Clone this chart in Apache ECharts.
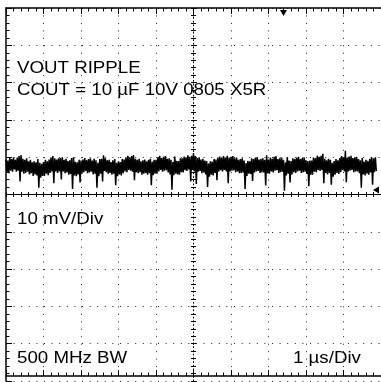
<!DOCTYPE html>
<html>
<head>
<meta charset="utf-8">
<script src="https://cdn.jsdelivr.net/npm/echarts@6/dist/echarts.min.js"></script>
<style>
  html, body { margin: 0; padding: 0; background: #fff; }
  #scope { width: 381px; height: 382px; }
</style>
</head>
<body>
<div id="scope"></div>
<script>
// Time base: 1 µs/div, 10 divisions centred on the trigger point.
const timeStartUs = -5;
const timeStepUs = 0.05;

// Ripple trace envelope, in mV (10 mV/div), one column every 0.05 µs.
const traceHigh = [
  9.3, 9.1, 9.9, 9.5, 9.9, 9.3, 9.9, 10.3, 10.6, 9.6,
  9.3, 9.7, 8.9, 9.3, 8.6, 8.9, 8.6, 9.5, 8.5, 8.2,
  8.7, 9.3, 8.9, 9.4, 9.9, 10.3, 9.7, 9.4, 9.7, 9.8,
  10.0, 9.3, 9.6, 9.0, 9.2, 9.8, 10.0, 8.8, 8.6, 9.3,
  9.1, 9.4, 9.8, 9.2, 9.5, 9.7, 9.1, 9.6, 9.2, 8.5,
  9.5, 9.6, 10.5, 9.7, 9.2, 9.3, 8.7, 9.2, 9.5, 8.5,
  8.9, 8.7, 9.5, 9.4, 10.0, 10.4, 10.0, 10.3, 10.6, 9.6,
  9.3, 9.6, 8.9, 9.2, 9.4, 8.9, 9.3, 9.6, 8.8, 9.3,
  9.3, 10.0, 10.4, 9.8, 10.1, 10.3, 9.6, 9.7, 9.3, 8.7,
  10.2, 9.0, 9.0, 9.7, 9.7, 10.2, 10.0, 10.5, 10.1, 10.4,
  11.1, 10.3, 9.8, 10.0, 9.4, 9.6, 9.1, 9.0, 8.3, 8.9,
  8.8, 9.5, 9.4, 9.9, 10.2, 9.9, 10.3, 9.9, 10.4, 9.9,
  10.1, 10.3, 9.7, 9.9, 9.3, 9.5, 9.7, 9.1, 8.4, 9.0,
  8.9, 9.7, 9.5, 9.9, 10.0, 9.4, 9.6, 9.7, 9.3, 10.5,
  9.4, 9.9, 9.6, 10.1, 10.3, 9.5, 9.7, 9.9, 9.3, 8.6,
  10.0, 9.1, 9.0, 9.7, 9.5, 9.9, 10.1, 9.5, 9.8, 9.9,
  9.2, 9.0, 9.1, 9.1, 9.9, 9.8, 10.4, 10.1, 10.4, 10.9,
  9.6, 9.2, 9.6, 9.3, 8.5, 9.0, 9.5, 9.2, 9.8, 10.3,
  10.0, 11.7, 9.9, 10.2, 10.4, 9.8, 10.0, 10.1, 9.5, 9.2,
  9.8, 8.8, 9.3, 9.0, 9.6, 10.0, 9.7, 10.0
];
const traceLow = [
  5.9, 5.7, 6.4, 6.1, 6.7, 6.1, 6.4, 3.5, 6.1, 5.6,
  5.8, 6.1, 5.4, 5.7, 5.0, 5.4, 5.1, 1.8, 4.5, 5.0,
  5.0, 5.6, 5.2, 5.8, 6.2, 3.0, 6.2, 5.8, 6.2, 4.0,
  6.2, 5.7, 5.9, 5.3, 5.5, 1.5, 5.1, 4.9, 5.4, 3.2,
  5.6, 6.0, 6.3, 5.7, 5.9, 6.1, 5.4, 5.6, 1.8, 4.9,
  5.6, 3.5, 6.3, 6.0, 5.6, 5.8, 5.3, 5.6, 2.5, 4.9,
  5.4, 5.1, 5.7, 6.2, 6.0, 6.6, 6.4, 6.1, 3.8, 6.0,
  5.7, 6.0, 5.3, 5.6, 5.8, 5.3, 5.7, 2.5, 5.2, 5.6,
  5.6, 6.2, 6.6, 6.1, 6.4, 6.5, 5.9, 5.4, 1.3, 5.2,
  5.6, 5.4, 5.3, 6.0, 5.9, 6.5, 6.3, 6.7, 3.5, 6.6,
  6.2, 2.8, 6.1, 6.3, 5.7, 5.9, 5.4, 2.0, 4.8, 5.3,
  5.1, 5.8, 3.8, 6.2, 6.5, 6.2, 6.6, 6.2, 3.0, 6.2,
  6.4, 6.5, 6.0, 6.2, 5.7, 5.8, 5.9, 1.5, 5.0, 5.6,
  5.5, 3.6, 5.9, 6.2, 6.3, 5.8, 5.9, 5.9, 2.4, 5.7,
  5.6, 6.2, 5.9, 6.4, 6.5, 5.8, 6.0, 6.1, 1.0, 5.1,
  5.6, 3.2, 5.4, 6.0, 5.8, 6.2, 6.4, 5.8, 6.0, 6.1,
  5.5, 2.2, 5.3, 5.3, 6.1, 6.0, 6.6, 6.3, 6.6, 3.0,
  5.8, 5.4, 5.8, 2.6, 4.8, 5.3, 5.8, 5.5, 6.0, 6.5,
  6.2, 3.3, 6.2, 6.4, 6.6, 6.0, 6.2, 6.2, 5.7, 1.8,
  5.4, 5.1, 5.6, 5.3, 5.9, 2.6, 6.0, 6.3
];

// Trigger position (top marker) and trigger level (right-edge marker).
const triggerTimeUs = 2.4;
const triggerLevelMv = 1.2;

// Screen annotations.
const captionLines = ['VOUT RIPPLE', 'COUT = 10 µF 10V 0805 X5R'];
const verticalScaleText = '10 mV/Div';
const bandwidthText = '500 MHz BW';
const timeScaleText = '1 µs/Div';

// Graticule: 10 divisions each way, 5 minor steps per division.
const timeRange = { min: -5, max: 5, interval: 1 };
const voltRange = { min: -50, max: 50, interval: 10 };

// The persistence trace alternates between the top and bottom of each column.
const tracePoints = [];
traceHigh.forEach((hi, i) => {
  const t = timeStartUs + i * timeStepUs;
  tracePoints.push([t, hi]);
  tracePoints.push([t + timeStepUs / 2, traceLow[i]]);
});

const INK = '#000';
const FONT = '17px "Liberation Sans", Arial, sans-serif';
const TEXT_STRETCH = 1.1;   // the scope's screen font is slightly wide

function axisBase(range, extra) {
  return Object.assign({
    type: 'value', min: range.min, max: range.max, interval: range.interval,
    axisLabel: { show: false },
    splitLine: { show: false },
    axisLine: { show: false, onZero: false },
    axisTick: { show: false },
    minorTick: { show: false }
  }, extra);
}

function borderAxis(range, position, extra) {
  return axisBase(range, Object.assign({
    position: position,
    axisLine: { show: true, onZero: false, lineStyle: { color: INK, width: 1.5 } },
    axisTick: { show: true, inside: true, length: 6, lineStyle: { color: INK, width: 1 } },
    minorTick: { show: true, splitNumber: 5, length: 3.5, lineStyle: { color: INK, width: 1 } }
  }, extra));
}

function centreAxis(range, position, inside, lineShow, lineStyle) {
  return axisBase(range, {
    position: position,
    axisLine: { show: lineShow, onZero: true, onZeroAxisIndex: 0, lineStyle: lineStyle },
    axisTick: { show: true, inside: inside, length: 2.5, lineStyle: { color: INK, width: 1 } },
    minorTick: { show: true, splitNumber: 5, length: 2.5, lineStyle: { color: INK, width: 1 } }
  });
}

function screenText(text, left, top) {
  return {
    type: 'text', left: left, top: top, z: 10,
    scaleX: TEXT_STRETCH,
    style: { text: text, font: FONT, fill: INK }
  };
}

const chart = echarts.init(document.getElementById('scope'), null, { renderer: 'canvas' });

chart.setOption({
  animation: false,
  backgroundColor: '#fff',
  grid: { left: 6, top: 8, width: 380, height: 373, containLabel: false },
  xAxis: [
    borderAxis(timeRange, 'bottom', {
      offset: -5,
      splitLine: { show: true, lineStyle: { color: '#222', width: 1, type: [1, 6.46] } }
    }),
    borderAxis(timeRange, 'top', {}),
    centreAxis(timeRange, 'bottom', false, true, { color: INK, width: 1 }),
    centreAxis(timeRange, 'bottom', true, false, { color: INK, width: 1 })
  ],
  yAxis: [
    borderAxis(voltRange, 'left', {
      splitLine: { show: true, lineStyle: { color: '#222', width: 1, type: [1, 6.6] } }
    }),
    centreAxis(voltRange, 'left', true, true, { color: INK, width: 1, type: [1, 2.7] }),
    centreAxis(voltRange, 'left', false, false, { color: INK, width: 1 })
  ],
  series: [{
    type: 'line',
    xAxisIndex: 0,
    yAxisIndex: 0,
    data: tracePoints,
    showSymbol: false,
    symbol: 'none',
    clip: true,
    lineStyle: { color: INK, width: 1.5 },
    z: 5,
    markPoint: {
      silent: true,
      label: { show: false },
      itemStyle: { color: INK },
      data: [
        { coord: [triggerTimeUs, voltRange.max], symbol: 'triangle', symbolRotate: 180, symbolSize: [7, 6], symbolOffset: [0, 5] },
        { coord: [timeRange.max, triggerLevelMv], symbol: 'triangle', symbolRotate: 90, symbolSize: [7, 6], symbolOffset: [-5, 0] }
      ]
    }
  }],
  graphic: [
    screenText(captionLines[0], 17, 59.5),
    screenText(captionLines[1], 17, 82),
    screenText(verticalScaleText, 17, 211),
    screenText(bandwidthText, 17, 350),
    screenText(timeScaleText, 293, 350)
  ]
});
</script>
</body>
</html>
